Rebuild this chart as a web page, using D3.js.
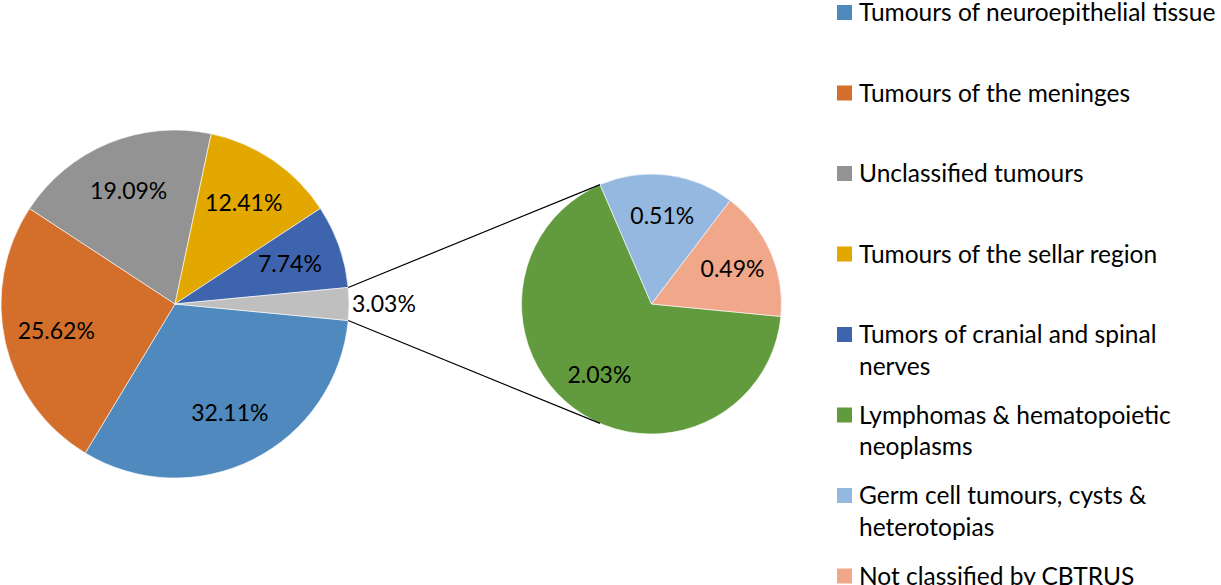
<!DOCTYPE html>
<html><head><meta charset="utf-8">
<script src="https://cdn.jsdelivr.net/npm/d3@7"></script>
<style>html,body{margin:0;padding:0;background:#fff;} svg{display:block;}</style>
</head><body>
<svg id="chart" width="1221" height="585"></svg>
<script>
// ---- data ----
const mainCategories = ["Tumours of neuroepithelial tissue","Tumours of the meninges","Unclassified tumours","Tumours of the sellar region","Tumors of cranial and spinal nerves","Other"];
const mainValues = [32.11, 25.62, 19.09, 12.41, 7.74, 3.03];
const mainColors = ["#4f89bd","#d36f2b","#939393","#e2a800","#3e64ae","#bfbfbf"];
const subCategories = ["Lymphomas & hematopoietic neoplasms","Germ cell tumours, cysts & heterotopias","Not classified by CBTRUS"];
const subValues = [2.03, 0.51, 0.49];
const subColors = ["#629b3e","#95b8e0","#f0a78a"];
const legendLabels = [
  ["Tumours of neuroepithelial tissue"],
  ["Tumours of the meninges"],
  ["Unclassified tumours"],
  ["Tumours of the sellar region"],
  ["Tumors of cranial and spinal","nerves"],
  ["Lymphomas & hematopoietic","neoplasms"],
  ["Germ cell tumours, cysts &","heterotopias"],
  ["Not classified by CBTRUS"]
];
const legendColors = mainColors.slice(0,5).concat(subColors);

// ---- layout ----
const svg = d3.select("#chart");
const FONT = "Lato, 'Open Sans', sans-serif";
const deg = Math.PI/180;
const main = {cx:175, cy:304, r:174};
const sub = {cx:651.5, cy:304, r:130};

const total = d3.sum(mainValues);
const otherSpan = mainValues[5]/total*2*Math.PI;
const mainStart = Math.PI/2 + otherSpan/2;

const mainPie = d3.pie().sort(null).startAngle(mainStart).endAngle(mainStart + 2*Math.PI);
const mainArcs = mainPie(mainValues);
const arcMain = d3.arc().innerRadius(0).outerRadius(main.r);

const gMain = svg.append("g").attr("transform",`translate(${main.cx},${main.cy})`);
gMain.selectAll("path").data(mainArcs).enter().append("path")
  .attr("d", arcMain).attr("fill",(d,i)=>mainColors[i])
  .attr("stroke","#fff").attr("stroke-width",0.6);

const labelArcMain = d3.arc().innerRadius(main.r*0.70).outerRadius(main.r*0.70);
gMain.selectAll("text.lbl").data(mainArcs.slice(0,5)).enter().append("text")
  .attr("class","lbl")
  .attr("transform", d=>`translate(${labelArcMain.centroid(d)})`)
  .attr("text-anchor","middle").attr("dy","0.35em")
  .style("font-family",FONT).style("font-size","23px").attr("fill","#000")
  .text((d,i)=>mainValues[i].toFixed(2)+"%");

// other label outside
const oth = mainArcs[5];
const othMid = (oth.startAngle+oth.endAngle)/2;
gMain.append("text")
  .attr("x", Math.sin(othMid)*(main.r+3)).attr("y", -Math.cos(othMid)*main.r)
  .attr("dy","0.35em").attr("text-anchor","start")
  .style("font-family",FONT).style("font-size","23px").attr("fill","#000")
  .text(mainValues[5].toFixed(2)+"%");

// second pie
const subStart = 95.5*deg;
const subPie = d3.pie().sort(null).startAngle(subStart).endAngle(subStart + 2*Math.PI);
const subArcs = subPie(subValues);
const arcSub = d3.arc().innerRadius(0).outerRadius(sub.r);
const gSub = svg.append("g").attr("transform",`translate(${sub.cx},${sub.cy})`);
gSub.selectAll("path").data(subArcs).enter().append("path")
  .attr("d", arcSub).attr("fill",(d,i)=>subColors[i])
  .attr("stroke","#fff").attr("stroke-width",0.6);
const labelArcSub = d3.arc().innerRadius(sub.r*0.68).outerRadius(sub.r*0.68);
gSub.selectAll("text").data(subArcs).enter().append("text")
  .attr("transform", d=>`translate(${labelArcSub.centroid(d)})`)
  .attr("text-anchor","middle").attr("dy","0.35em")
  .style("font-family",FONT).style("font-size","23px").attr("fill","#000")
  .text((d,i)=>subValues[i].toFixed(2)+"%");

// connector lines
const topA = subArcs[0].endAngle - 2*Math.PI; // end of green
const botA = Math.PI - topA;
const pt = (c,a)=>[c.cx + Math.sin(a)*c.r, c.cy - Math.cos(a)*c.r];
const m1 = pt(main, oth.startAngle), m2 = pt(main, oth.endAngle);
const s1 = pt(sub, topA), s2 = pt(sub, botA);
svg.append("line").attr("x1",m1[0]).attr("y1",m1[1]).attr("x2",s1[0]).attr("y2",s1[1]).attr("stroke","#000").attr("stroke-width",1.2);
svg.append("line").attr("x1",m2[0]).attr("y1",m2[1]).attr("x2",s2[0]).attr("y2",s2[1]).attr("stroke","#000").attr("stroke-width",1.2);

// legend
const legY = d3.scaleLinear().domain([0,7]).range([12.5,576]);
const gLeg = svg.append("g");
legendLabels.forEach((lines,i)=>{
  const y = legY(i);
  gLeg.append("rect").attr("x",837).attr("y",y-7.5).attr("width",15).attr("height",15).attr("fill",legendColors[i]);
  lines.forEach((t,j)=>{
    gLeg.append("text").attr("x",859).attr("y",y + j*31.5).attr("dy","0.35em")
      .style("font-family",FONT).style("font-size","24.5px").attr("fill","#000").text(t);
  });
});
</script>
</body></html>
